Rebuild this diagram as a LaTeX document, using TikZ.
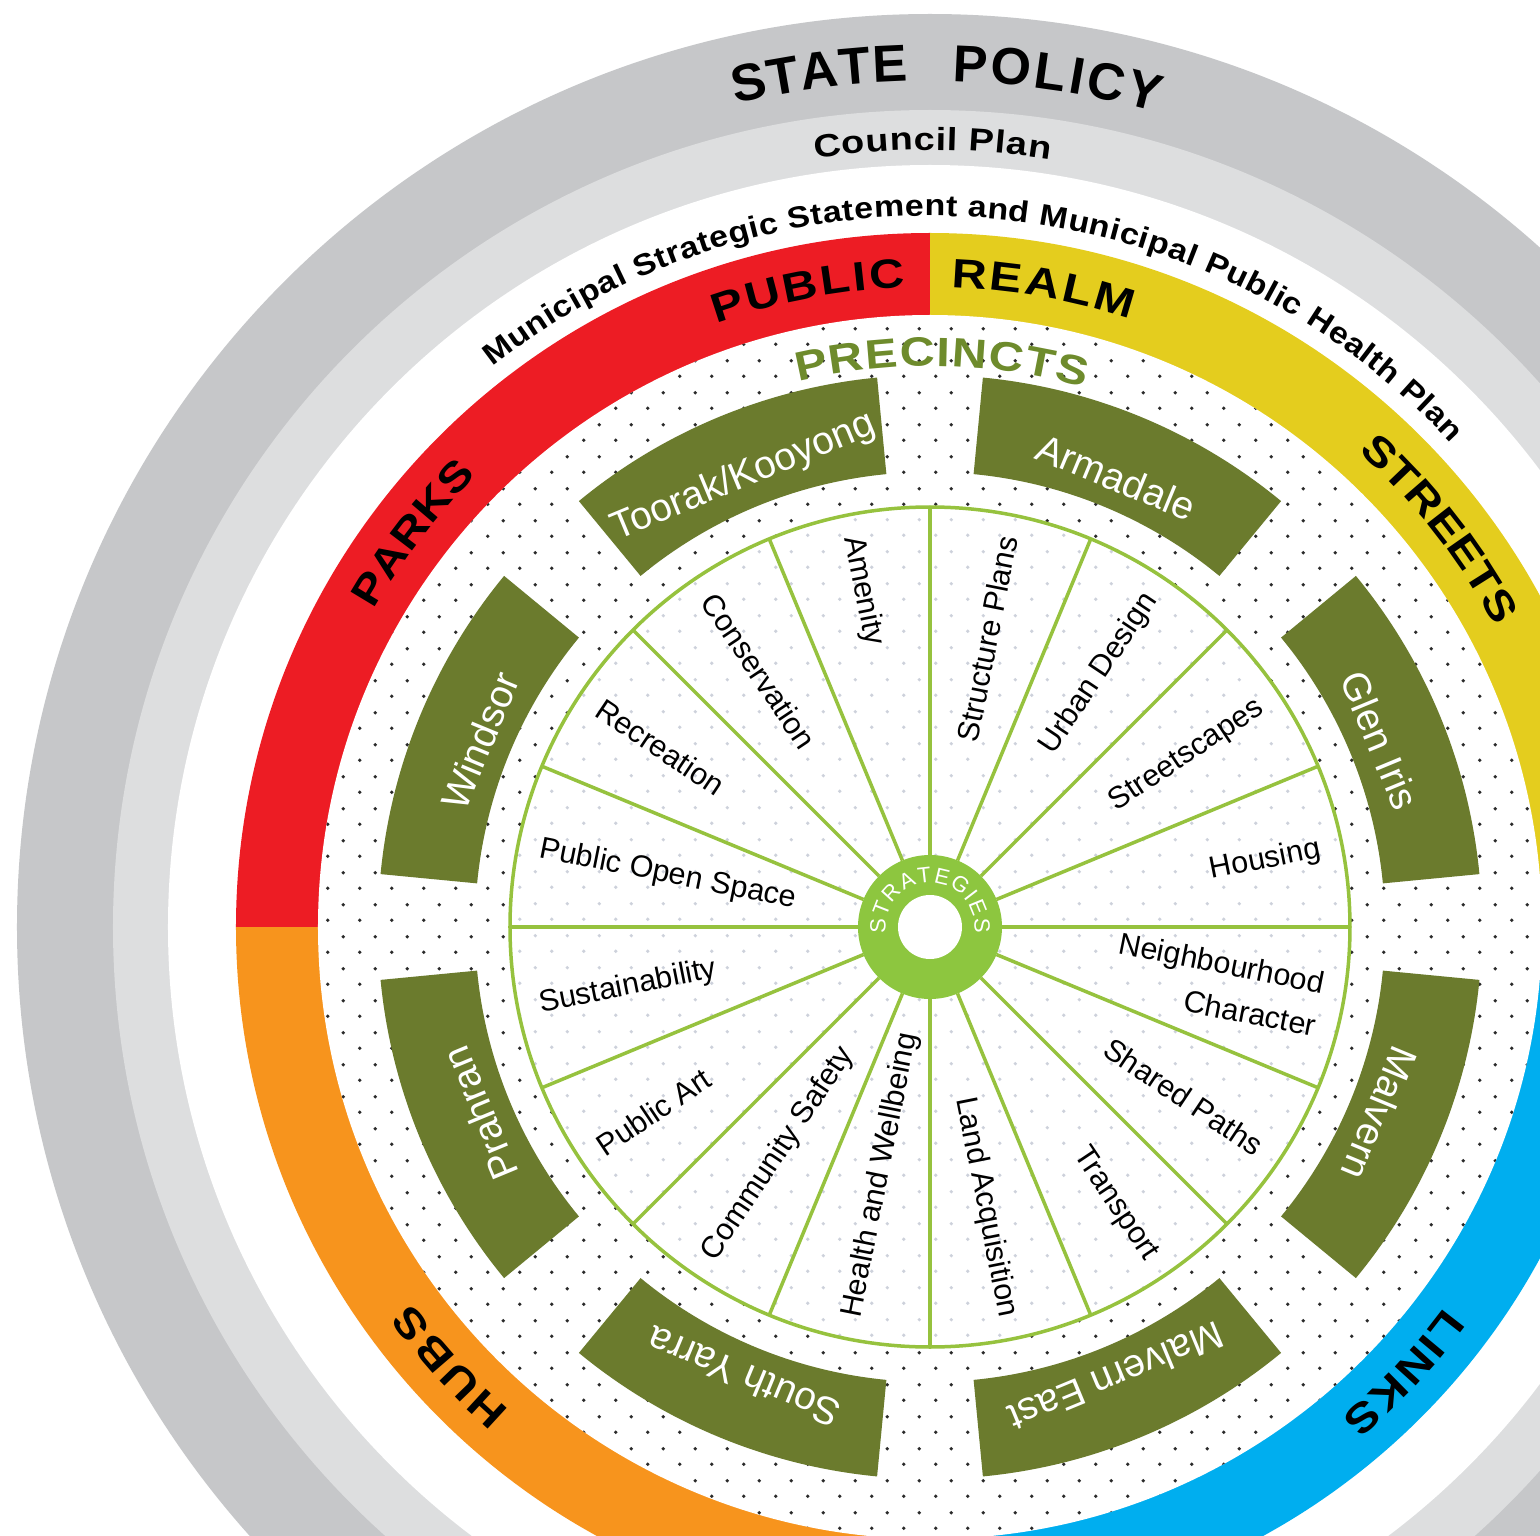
\documentclass[tikz,border=0pt]{standalone}
\usepackage{fontspec}
\setmainfont{Liberation Sans}
\newfontfamily\wideA{Liberation Sans}[FakeStretch=1.18]
\newfontfamily\wideB{Liberation Sans}[FakeStretch=1.13]
\usetikzlibrary{decorations.text,patterns}
\definecolor{gOuter}{HTML}{C6C7C9}
\definecolor{gInner}{HTML}{DDDEDF}
\definecolor{cRed}{HTML}{ED1C24}
\definecolor{cYellow}{HTML}{E4CD1E}
\definecolor{cOrange}{HTML}{F7941D}
\definecolor{cBlue}{HTML}{00AEEF}
\definecolor{cOlive}{HTML}{6B7B2D}
\definecolor{cPrec}{HTML}{6E8B2C}
\definecolor{cSpoke}{HTML}{96C23E}
\definecolor{cStrat}{HTML}{8DC63F}
\definecolor{cFaint}{HTML}{CDD1DB}
\definecolor{cDot}{HTML}{2A2A2A}

\pgfdeclarepatternformonly{bigdots}{\pgfqpoint{0pt}{0pt}}{\pgfqpoint{32pt}{32pt}}{\pgfqpoint{32pt}{32pt}}{%
  \pgfpathcircle{\pgfqpoint{8pt}{8pt}}{1.9pt}%
  \pgfpathcircle{\pgfqpoint{24pt}{24pt}}{1.9pt}%
  \pgfusepath{fill}}

% #1 radius, #2 start angle, #3 end angle, #4 format, #5 colour, #6 text
\newcommand{\arctext}[6]{%
  \path[decorate, decoration={text along path, text align={fit to path},
        text color=#5, text={|#4|#6}}]
    (#2:#1) arc[start angle=#2, end angle=#3, radius=#1];}

% #1 centre angle, #2 name, #3 label
\newcommand{\precbox}[3]{%
  \fill[cOlive] ({#1-17}:455pt) arc[start angle={#1-17}, end angle={#1+17}, radius=455pt]
     -- ({#1+17}:552pt) arc[start angle={#1+17}, end angle={#1-17}, radius=552pt] -- cycle;
  \node[prec, rotate={#1-90}] (#2) at (#1:487pt) {#3};}

\begin{document}
\begin{tikzpicture}[x=1pt,y=1pt,
  prec/.style={text=white, font=\fontsize{39}{39}\selectfont, inner sep=0pt},
  strat/.style={text=black, font=\fontsize{30.5}{30.5}\selectfont, inner sep=0pt},
  spoke/.style={draw=cSpoke, line width=3.5pt}]
\useasboundingbox (-930,-608) rectangle (610,927);
\fill[white] (-930,-608) rectangle (610,927);

% grey policy rings
\fill[gOuter] (0,0) circle (913pt);
\fill[gInner] (0,0) circle (817pt);
\fill[white] (0,0) circle (762pt);

% coloured public realm ring
\fill[cYellow] (0,0) -- (0:694pt) arc[start angle=0, end angle=90, radius=694pt] -- cycle;
\fill[cRed] (0,0) -- (90:694pt) arc[start angle=90, end angle=180, radius=694pt] -- cycle;
\fill[cOrange] (0,0) -- (180:694pt) arc[start angle=180, end angle=270, radius=694pt] -- cycle;
\fill[cBlue] (0,0) -- (270:694pt) arc[start angle=270, end angle=360, radius=694pt] -- cycle;

% dotted precinct field
\fill[white] (0,0) circle (612pt);
\fill[pattern=bigdots, pattern color=cDot] (0,0) circle (612pt);
\fill[white] (0,0) circle (420pt);
\fill[pattern=bigdots, pattern color=cFaint] (0,0) circle (420pt);

% precinct boxes
\precbox{112.5}{p1}{Toorak/Kooyong}
\precbox{67.5}{p2}{Armadale}
\precbox{22.5}{p3}{Glen Iris}
\precbox{-22.5}{p4}{Malvern}
\precbox{-67.5}{p5}{Malvern East}
\precbox{-112.5}{p6}{South Yarra}
\precbox{-157.5}{p7}{Prahran}
\precbox{157.5}{p8}{Windsor}

% spokes
\foreach \a in {0,22.5,...,337.5} \draw[spoke] (\a:72pt) -- (\a:420pt);
\draw[spoke] (0,0) circle (420pt);

% strategies hub
\fill[cStrat] (0,0) circle (72pt);
\fill[white] (0,0) circle (32pt);

% strategy labels
\node[strat, rotate=78.75, anchor=east] (s1) at (78.75:398pt) {Structure Plans};
\node[strat, rotate=56.25, anchor=east] (s2) at (56.25:398pt) {Urban Design};
\node[strat, rotate=33.75, anchor=east] (s3) at (33.75:398pt) {Streetscapes};
\node[strat, rotate=11.25, anchor=east] (s4) at (11.25:398pt) {Housing};
\node[strat, rotate=-11.25, anchor=east, align=right, font=\fontsize{30.5}{44}\selectfont] (s5) at (-11.25:398pt) {Neighbourhood\\Character};
\node[strat, rotate=-33.75, anchor=east] (s6) at (-33.75:398pt) {Shared Paths};
\node[strat, rotate=-56.25, anchor=east] (s7) at (-56.25:398pt) {Transport};
\node[strat, rotate=-78.75, anchor=east] (s8) at (-78.75:398pt) {Land Acquisition};
\node[strat, rotate=78.75, anchor=west] (s9) at (-101.25:398pt) {Health and Wellbeing};
\node[strat, rotate=56.25, anchor=west] (s10) at (-123.75:398pt) {Community Safety};
\node[strat, rotate=33.75, anchor=west] (s11) at (-146.25:398pt) {Public Art};
\node[strat, rotate=11.25, anchor=west] (s12) at (-168.75:398pt) {Sustainability};
\node[strat, rotate=-11.25, anchor=west] (s13) at (168.75:398pt) {Public Open Space};
\node[strat, rotate=-33.75, anchor=west] (s14) at (146.25:398pt) {Recreation};
\node[strat, rotate=-56.25, anchor=west] (s15) at (123.75:398pt) {Conservation};
\node[strat, rotate=-78.75, anchor=west] (s16) at (101.25:398pt) {Amenity};

% curved ring texts
\arctext{846pt}{103.3}{91.5}{\bfseries\fontsize{52}{52}\selectfont}{black}{STATE}
\arctext{846pt}{88.5}{74.4}{\bfseries\fontsize{52}{52}\selectfont}{black}{POLICY}
\arctext{777pt}{98.5}{81.1}{\wideA\bfseries\fontsize{32}{32}\selectfont}{black}{Council Plan}
\arctext{711pt}{128}{43}{\wideB\bfseries\fontsize{30}{30}\selectfont}{black}{Municipal Strategic Statement and Municipal Public Health Plan}
\arctext{640pt}{109.5}{92.2}{\wideA\bfseries\fontsize{41}{41}\selectfont}{black}{PUBLIC}
\arctext{640pt}{88.1}{71.8}{\wideA\bfseries\fontsize{41}{41}\selectfont}{black}{REALM}
\arctext{640pt}{150.3}{135.2}{\wideA\bfseries\fontsize{41}{41}\selectfont}{black}{PARKS}
\arctext{640pt}{48}{28}{\wideA\bfseries\fontsize{41}{41}\selectfont}{black}{STREETS}
\arctext{640pt}{-131}{-144}{\wideA\bfseries\fontsize{41}{41}\selectfont}{black}{HUBS}
\arctext{640pt}{-36.5}{-50}{\wideA\bfseries\fontsize{41}{41}\selectfont}{black}{LINKS}
\arctext{561pt}{103.6}{74}{\wideA\bfseries\fontsize{41}{41}\selectfont}{cPrec}{PRECINCTS}
\arctext{44.5pt}{188}{-8}{\fontsize{22}{22}\selectfont}{white}{STRATEGIES}
\end{tikzpicture}
\end{document}
